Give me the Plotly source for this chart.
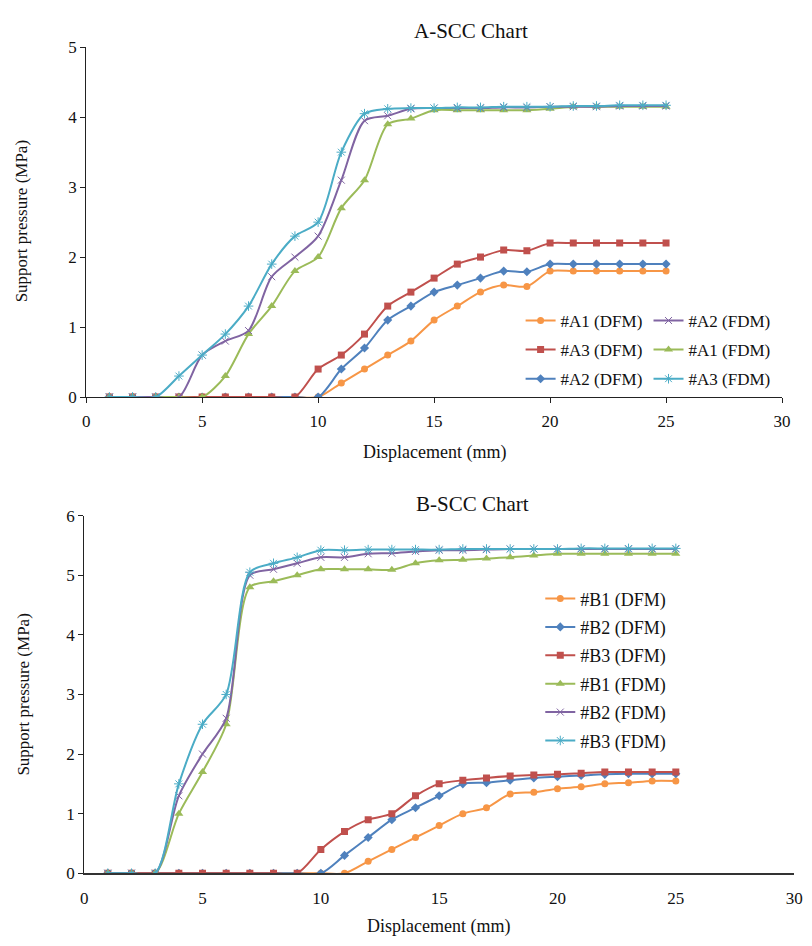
import plotly.graph_objects as go

W, H = 812, 946

x_vals = list(range(1, 26))

# ---- A-SCC chart data (MPa) ----
a1_dfm = [0, 0, 0, 0, 0, 0, 0, 0, 0, 0, 0.2, 0.4, 0.6, 0.8, 1.1, 1.3, 1.5, 1.6, 1.58, 1.8, 1.8, 1.8, 1.8, 1.8, 1.8]
a2_dfm = [0, 0, 0, 0, 0, 0, 0, 0, 0, 0, 0.4, 0.7, 1.1, 1.3, 1.5, 1.6, 1.7, 1.8, 1.79, 1.9, 1.9, 1.9, 1.9, 1.9, 1.9]
a3_dfm = [0, 0, 0, 0, 0, 0, 0, 0, 0, 0.4, 0.6, 0.9, 1.3, 1.5, 1.7, 1.9, 2.0, 2.1, 2.09, 2.2, 2.2, 2.2, 2.2, 2.2, 2.2]
a1_fdm = [0, 0, 0, 0, 0, 0.3, 0.9, 1.3, 1.8, 2.0, 2.7, 3.1, 3.9, 3.98, 4.1, 4.1, 4.1, 4.1, 4.1, 4.12, 4.15, 4.15, 4.15, 4.15, 4.15]
a2_fdm = [0, 0, 0, 0, 0.6, 0.8, 0.95, 1.72, 2.0, 2.3, 3.1, 3.95, 4.02, 4.12, 4.13, 4.13, 4.13, 4.14, 4.14, 4.15, 4.15, 4.15, 4.16, 4.16, 4.16]
a3_fdm = [0, 0, 0, 0.3, 0.6, 0.9, 1.3, 1.9, 2.3, 2.5, 3.5, 4.05, 4.12, 4.13, 4.13, 4.14, 4.14, 4.15, 4.15, 4.15, 4.16, 4.16, 4.17, 4.17, 4.17]

# ---- B-SCC chart data (MPa) ----
b1_dfm = [0, 0, 0, 0, 0, 0, 0, 0, 0, 0, 0, 0.2, 0.4, 0.6, 0.8, 1.0, 1.1, 1.33, 1.36, 1.42, 1.45, 1.5, 1.52, 1.55, 1.55]
b2_dfm = [0, 0, 0, 0, 0, 0, 0, 0, 0, 0, 0.3, 0.6, 0.9, 1.1, 1.3, 1.5, 1.52, 1.56, 1.6, 1.62, 1.64, 1.66, 1.67, 1.67, 1.67]
b3_dfm = [0, 0, 0, 0, 0, 0, 0, 0, 0, 0.4, 0.7, 0.9, 1.0, 1.3, 1.5, 1.56, 1.6, 1.63, 1.65, 1.66, 1.68, 1.7, 1.7, 1.7, 1.7]
b1_fdm = [0, 0, 0, 1.0, 1.7, 2.5, 4.8, 4.9, 5.0, 5.1, 5.1, 5.1, 5.09, 5.2, 5.25, 5.26, 5.28, 5.3, 5.33, 5.36, 5.36, 5.36, 5.36, 5.36, 5.36]
b2_fdm = [0, 0, 0, 1.3, 2.0, 2.6, 5.0, 5.1, 5.2, 5.3, 5.3, 5.36, 5.37, 5.4, 5.42, 5.42, 5.43, 5.44, 5.44, 5.44, 5.44, 5.44, 5.44, 5.44, 5.44]
b3_fdm = [0, 0, 0, 1.5, 2.5, 3.0, 5.05, 5.2, 5.3, 5.42, 5.42, 5.43, 5.43, 5.43, 5.43, 5.44, 5.44, 5.44, 5.44, 5.44, 5.45, 5.45, 5.45, 5.45, 5.45]

a_names = ["#A1 (DFM)", "#A2 (DFM)", "#A3 (DFM)", "#A1 (FDM)", "#A2 (FDM)", "#A3 (FDM)"]
b_names = ["#B1 (DFM)", "#B2 (DFM)", "#B3 (DFM)", "#B1 (FDM)", "#B2 (FDM)", "#B3 (FDM)"]

FONT = "Liberation Serif, Times New Roman, serif"
ORANGE, BLUE, RED = "#F79646", "#4F81BD", "#C0504D"
GREEN, PURPLE, CYAN = "#9BBB59", "#8064A2", "#4BACC6"

styles = [
    dict(color=ORANGE, symbol="circle", size=7, lc=ORANGE, lw=0),
    dict(color=BLUE, symbol="diamond", size=7, lc=BLUE, lw=0),
    dict(color=RED, symbol="square", size=7, lc=RED, lw=0),
    dict(color=GREEN, symbol="triangle-up", size=8, lc=GREEN, lw=0),
    dict(color=PURPLE, symbol="x-thin-open", size=7, lc="#B9A6D3", lw=1),
    dict(color=CYAN, symbol="asterisk-open", size=8, lc="#9ED6E6", lw=1),
]

fig = go.Figure()

def add(series, names, xa, ya, legends, ranks):
    for i, (vals, name) in enumerate(zip(series, names)):
        st = styles[i]
        fig.add_trace(go.Scatter(
            x=x_vals, y=vals, name=name, mode="lines+markers",
            xaxis=xa, yaxis=ya, legend=legends[i], legendrank=ranks[i],
            legendgroup=name,
            line=dict(color=st["color"], width=2, shape="spline", smoothing=0.8),
            marker=dict(symbol=st["symbol"], size=st["size"], color=st["color"],
                        line=dict(color=st["lc"], width=st["lw"])),
        ))

# top chart: left column legend = A1 DFM, A3 DFM, A2 DFM ; right = A2 FDM, A1 FDM, A3 FDM
add([a1_dfm, a2_dfm, a3_dfm, a1_fdm, a2_fdm, a3_fdm], a_names, "x", "y",
    ["legend", "legend", "legend", "legend2", "legend2", "legend2"],
    [1, 3, 2, 2, 1, 3])
add([b1_dfm, b2_dfm, b3_dfm, b1_fdm, b2_fdm, b3_fdm], b_names, "x2", "y2",
    ["legend3"] * 6, [1, 2, 3, 4, 5, 6])

def px(x): return x / W
def py(y): return 1 - y / H

axis_common = dict(showgrid=False, zeroline=False, showline=True, linecolor="#222",
                   linewidth=1, tickfont=dict(family=FONT, size=17, color="#111"),
                   tickcolor="#222", ticklen=5)

fig.update_layout(
    width=W, height=H, margin=dict(l=0, r=0, t=0, b=0),
    paper_bgcolor="white", plot_bgcolor="white",
    font=dict(family=FONT, color="#111"),
    xaxis=dict(domain=[px(83.5), px(790.7)], range=[0, 30], dtick=5, ticks="outside",
               anchor="y", ticklabelstandoff=4, **axis_common),
    yaxis=dict(domain=[py(396), py(39)], range=[0, 5], dtick=1, ticks="outside",
               anchor="x", **axis_common),
    xaxis2=dict(domain=[px(81.5), px(803)], range=[0, 30], dtick=5, ticks="",
                anchor="y2", ticklabelstandoff=8,
                **{**axis_common, "linewidth": 2, "linecolor": "#333"}),
    yaxis2=dict(domain=[py(882), py(517)], range=[0, 6], dtick=1, ticks="outside",
                anchor="x2", **axis_common),
    legend=dict(x=px(525), y=py(300), xanchor="left", yanchor="top",
                bgcolor="rgba(0,0,0,0)", tracegroupgap=4,
                font=dict(family=FONT, size=17, color="#111")),
    legend2=dict(x=px(655), y=py(300), xanchor="left", yanchor="top",
                 bgcolor="rgba(0,0,0,0)", tracegroupgap=4,
                 font=dict(family=FONT, size=17, color="#111")),
    legend3=dict(x=px(545), y=py(583), xanchor="left", yanchor="top",
                 bgcolor="rgba(0,0,0,0)", tracegroupgap=2,
                 font=dict(family=FONT, size=18, color="#111")),
    showlegend=True,
)

ann = [
    ("A-SCC Chart", 475, 22, 21, 0),
    ("B-SCC Chart", 476, 505, 21, 0),
    ("Displacement (mm)", 437, 453, 18, 0),
    ("Displacement (mm)", 442, 936, 18, 0),
    ("Support pressure (MPa)", 18, 217, 17, -90),
    ("Support pressure (MPa)", 20, 700, 17, -90),
]
for text, x, y, size, ang in ann:
    fig.add_annotation(text=text, x=px(x), y=py(y), xref="paper", yref="paper",
                       xanchor="center", yanchor="middle", showarrow=False,
                       textangle=ang, font=dict(family=FONT, size=size, color="#111"))

fig.write_html("out.html")
